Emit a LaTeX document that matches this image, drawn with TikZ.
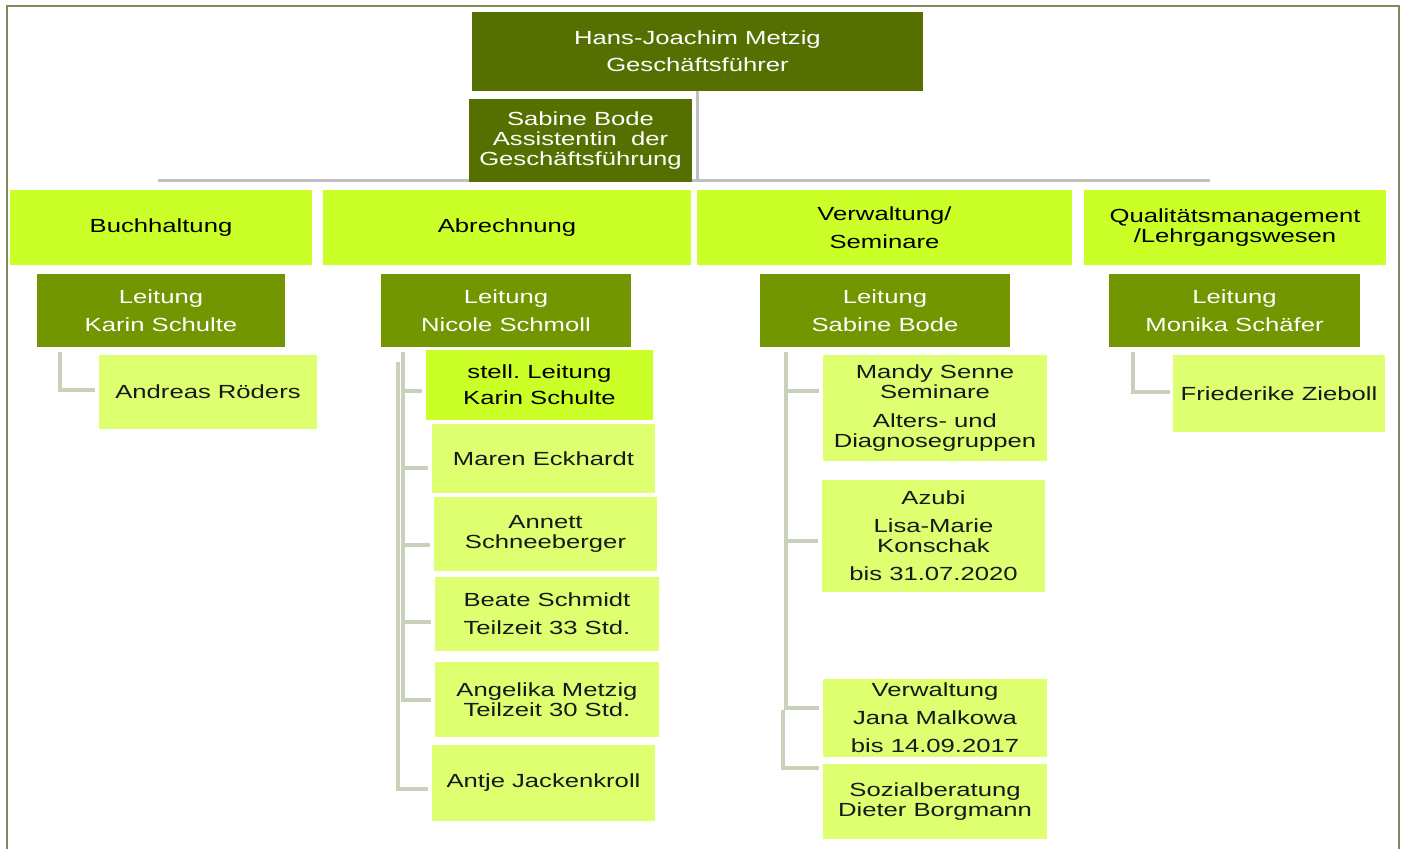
\documentclass[tikz,border=0pt]{standalone}
\usepackage{fontspec}
\setmainfont{Liberation Sans}[FakeStretch=1.35]
\usetikzlibrary{positioning}
\definecolor{chiefgreen}{RGB}{85,112,0}
\definecolor{leadgreen}{RGB}{114,150,0}
\definecolor{deptlime}{RGB}{202,255,40}
\definecolor{stafflime}{RGB}{221,255,112}
\definecolor{linkgray}{RGB}{200,209,185}
\definecolor{busgray}{RGB}{192,192,192}
\definecolor{framegreen}{RGB}{127,139,90}
\newcommand{\boxfont}{\fontsize{19}{20}\selectfont\frenchspacing}

\begin{document}
\begin{tikzpicture}[x=1pt,y=-1pt,
    box/.style={rectangle, inner sep=0pt, align=center, font=\boxfont},
    chief/.style={box, fill=chiefgreen, text=white},
    dept/.style={box, fill=deptlime, draw=white, line width=2pt},
    lead/.style={box, fill=leadgreen, text=white},
    staff/.style={box, fill=stafflime, text=black!90},
    link/.style={draw=linkgray, line width=4pt},
    buslink/.style={draw=busgray, line width=3pt}]
    \useasboundingbox (0,0) rectangle (1405,849);
    \draw[framegreen, line width=2pt] (7,849) -- (7,6) -- (1399,6) -- (1399,849);

    % top
    \node[chief, minimum width=451pt, minimum height=79pt] (ceo) at (697.5,51.5)
      {Hans-Joachim Metzig\\[7pt]Geschäftsführer};
    \coordinate (busL) at (158,180);
    \coordinate (busR) at (1210,180);
    \draw[buslink] (ceo.south) -- (ceo.south |- busL);
    \draw[buslink] (busL) -- (busR);
    \node[chief, minimum width=223pt, minimum height=83pt] (assist) at (580.5,140.5)
      {Sabine Bode\\Assistentin\ \ der\\Geschäftsführung};

    % departments
    \node[dept, minimum width=304pt, minimum height=77pt] (buch) at (161,227.5) {Buchhaltung};
    \node[dept, minimum width=370pt, minimum height=77pt] (abr) at (507,227.5) {Abrechnung};
    \node[dept, minimum width=377pt, minimum height=77pt] (verw) at (884.5,227.5) {Verwaltung/\\[8pt]Seminare};
    \node[dept, minimum width=304pt, minimum height=77pt] (qual) at (1235,227.5) {Qualitätsmanagement\\/Lehrgangswesen};

    % heads
    \node[lead, minimum width=248pt, minimum height=73pt] (leitbuch) at (161,310.5) {Leitung\\[8pt]Karin Schulte};
    \node[lead, minimum width=250pt, minimum height=73pt] (leitabr) at (506,310.5) {Leitung\\[8pt]Nicole Schmoll};
    \node[lead, minimum width=250pt, minimum height=73pt] (leitverw) at (885,310.5) {Leitung\\[8pt]Sabine Bode};
    \node[lead, minimum width=251pt, minimum height=73pt] (leitqual) at (1234.5,310.5) {Leitung\\[8pt]Monika Schäfer};

    % Buchhaltung
    \node[staff, minimum width=218pt, minimum height=74pt] (roeders) at (208,392) {Andreas Röders};
    \draw[link] ([xshift=23pt,yshift=-5pt]leitbuch.south west) |- ([xshift=-4pt,yshift=2pt]roeders.west);

    % Abrechnung
    \node[box, fill=deptlime, minimum width=227pt, minimum height=70pt] (stell) at (539.5,385) {stell. Leitung\\[6pt]Karin Schulte};
    \node[staff, minimum width=223pt, minimum height=69pt] (eckhardt) at (543.5,458.5) {Maren Eckhardt};
    \node[staff, minimum width=223pt, minimum height=74pt] (schneeberger) at (545.5,534) {Annett\\Schneeberger};
    \node[staff, minimum width=224pt, minimum height=74pt] (schmidt) at (547,614) {Beate Schmidt\\[8pt]Teilzeit 33 Std.};
    \node[staff, minimum width=224pt, minimum height=75pt] (ametzig) at (547,699.5) {Angelika Metzig\\Teilzeit 30 Std.};
    \node[staff, minimum width=223pt, minimum height=76pt] (jackenkroll) at (543.5,783) {Antje Jackenkroll};
    \coordinate (abrbar) at ([xshift=22pt,yshift=-5pt]leitabr.south west);
    \coordinate (abrbar2) at ([xshift=17pt,yshift=-15pt]leitabr.south west);
    \draw[link] (abrbar2) |- ([xshift=-4pt,yshift=-6pt]jackenkroll.west);
    \draw[link] (abrbar) |- ([xshift=-4pt]ametzig.west);
    \draw[link] ([yshift=-6pt]stell.west -| abrbar) -- ([xshift=-4pt,yshift=-6pt]stell.west);
    \draw[link] ([yshift=-9pt]eckhardt.west -| abrbar) -- ([xshift=-4pt,yshift=-9pt]eckhardt.west);
    \draw[link] ([yshift=-11pt]schneeberger.west -| abrbar) -- ([xshift=-4pt,yshift=-11pt]schneeberger.west);
    \draw[link] ([yshift=-8pt]schmidt.west -| abrbar) -- ([xshift=-4pt,yshift=-8pt]schmidt.west);

    % Verwaltung / Seminare
    \node[staff, minimum width=224pt, minimum height=106pt] (senne) at (935,408)
      {Mandy Senne\\Seminare\\[9pt]Alters- und\\Diagnosegruppen};
    \node[staff, minimum width=223pt, minimum height=112pt] (konschak) at (933.5,536)
      {Azubi\\[8pt]Lisa-Marie\\Konschak\\[8pt]bis 31.07.2020};
    \node[staff, minimum width=224pt, minimum height=78pt] (malkowa) at (935,718)
      {Verwaltung\\[8pt]Jana Malkowa\\[8pt]bis 14.09.2017};
    \node[staff, minimum width=224pt, minimum height=75pt] (borgmann) at (935,801.5)
      {Sozialberatung\\Dieter Borgmann};
    \coordinate (verwbar) at ([xshift=26pt,yshift=-5pt]leitverw.south west);
    \coordinate (verwbar2) at ([xshift=23pt,yshift=8pt]malkowa.west -| leitverw.south west);
    \draw[link] (verwbar) |- ([xshift=-4pt,yshift=10pt]malkowa.west);
    \draw[link] (verwbar2) |- ([xshift=-4pt,yshift=34pt]borgmann.west);
    \draw[link] ([yshift=17pt]senne.west -| verwbar) -- ([xshift=-4pt,yshift=17pt]senne.west);
    \draw[link] ([yshift=-5pt]konschak.west -| verwbar) -- ([xshift=-4pt,yshift=-5pt]konschak.west);

    % Qualitaetsmanagement
    \node[staff, minimum width=212pt, minimum height=77pt] (zieboll) at (1279,393.5) {Friederike Zieboll};
    \draw[link] ([xshift=24pt,yshift=-5pt]leitqual.south west) |- ([xshift=-3pt,yshift=2pt]zieboll.west);
\end{tikzpicture}
\end{document}
